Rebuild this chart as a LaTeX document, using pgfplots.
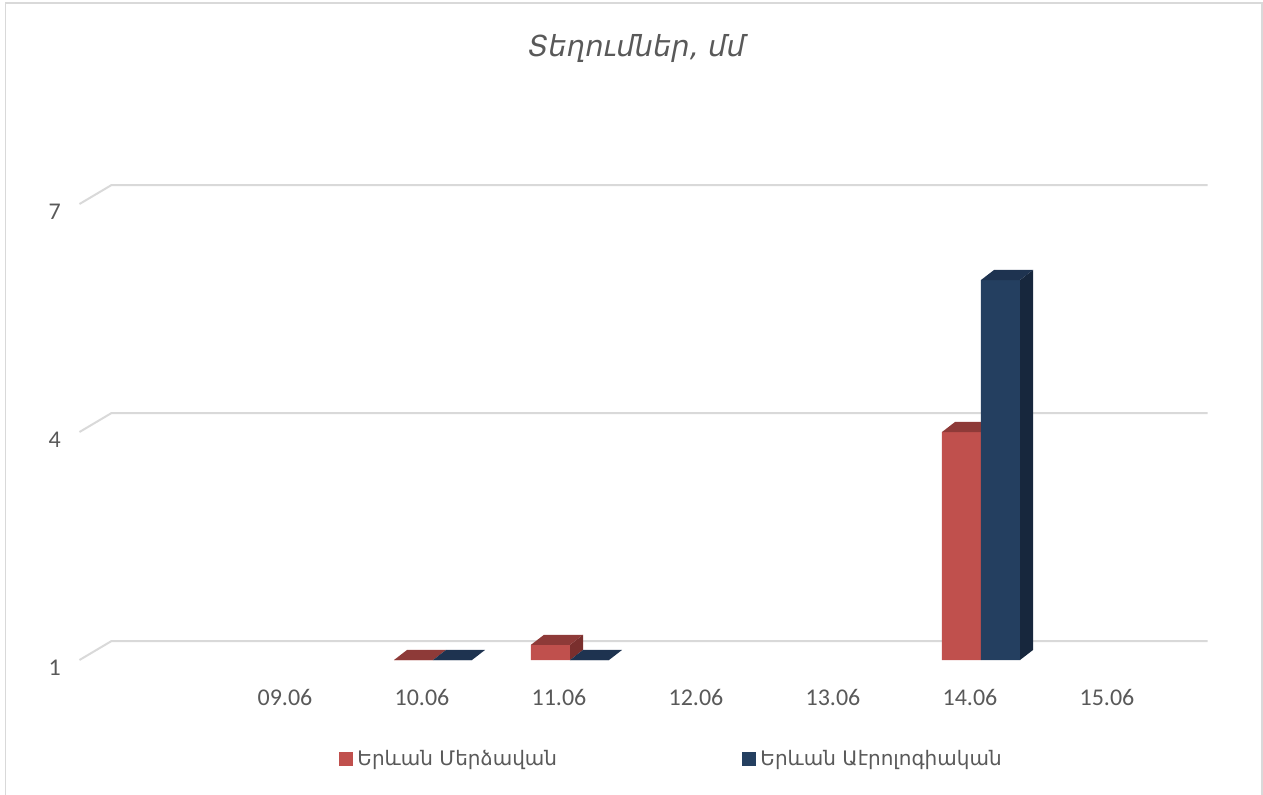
\documentclass[border=0pt]{standalone}
\usepackage{pgfplots}
\pgfplotsset{compat=1.18}
\usepackage{fontspec}
\setmainfont{Carlito}
\newfontfamily\armfont{DejaVu Sans}
\definecolor{txt}{HTML}{595959}
\definecolor{gridc}{HTML}{D9D9D9}
\definecolor{redF}{HTML}{C0504D}
\definecolor{redT}{HTML}{8E3A38}
\definecolor{redS}{HTML}{7A2F2D}
\definecolor{blueF}{HTML}{243F60}
\definecolor{blueT}{HTML}{1E3350}
\definecolor{blueS}{HTML}{17273D}
\begin{document}
\begin{tikzpicture}
\useasboundingbox (0,0) rectangle (631.5pt,397pt);
\draw[gridc, line width=0.75pt] (2.75pt,-3pt) -- (2.75pt,395.5pt) -- (631pt,395.5pt) -- (631pt,-3pt);
\node[text=txt, font=\armfont\itshape\fontsize{14.5}{16}\selectfont] at (318.25pt,372.5pt) {Տեղումներ, մմ};
\begin{axis}[
  at={(38.38pt,67pt)}, anchor=south west,
  scale only axis, width=567.18pt, height=239.4pt,
  xmin=-0.52, xmax=7.76, ymin=1, ymax=7.3,
  axis line style={draw=none}, tick style={draw=none},
  xtick={1,2,3,4,5,6,7},
  xticklabels={09.06,10.06,11.06,12.06,13.06,14.06,15.06},
  ytick={1,4,7},
  ticklabel style={font=\fontsize{12}{14}\selectfont, text=txt},
  /pgf/number format/assume math mode=true,
  xticklabel style={yshift=-11pt},
  yticklabel style={xshift=-4.5pt, yshift=-4pt},
  legend style={at={(0.2259,-0.2068)}, anchor=west, draw=none, fill=none,
    legend columns=2, font=\armfont\fontsize{10}{12}\selectfont, text=txt,
    /tikz/every even column/.append style={column sep=0pt}},
  legend image code/.code={\fill[#1] (0pt,-3.5pt) rectangle (7pt,3.5pt);},
]
% gridlines (front diagonal + back wall)
\addplot[gridc, line width=1pt, forget plot] coordinates {(-0.5,1) (-0.266,1.25) (7.734,1.25)};
\addplot[gridc, line width=1pt, forget plot] coordinates {(-0.5,4) (-0.266,4.25) (7.734,4.25)};
\addplot[gridc, line width=1pt, forget plot] coordinates {(-0.5,7) (-0.266,7.25) (7.734,7.25)};
% red series (front faces)
\addplot[ybar, bar width=0.285, bar shift=-0.062, fill=redF, draw=none,
  legend image code/.code={\fill[redF] (0pt,-3.5pt) rectangle (7pt,3.5pt);}]
  coordinates {(2,1) (3,1.2) (6,4)};
\addlegendentry{\makebox[190.5pt][l]{Երևան Մերձավան}}
% red tops and sides
\addplot[fill=redT, draw=none, forget plot] coordinates {(1.7956,1) (2.0803,1) (2.1753,1.132) (1.8906,1.132)} -- cycle;
\addplot[fill=redS, draw=none, forget plot] coordinates {(3.0803,1) (3.0803,1.2) (3.1753,1.332) (3.1753,1.132)} -- cycle;
\addplot[fill=redT, draw=none, forget plot] coordinates {(2.7956,1.2) (3.0803,1.2) (3.1753,1.332) (2.8906,1.332)} -- cycle;
\addplot[fill=redT, draw=none, forget plot] coordinates {(5.7956,4) (6.0803,4) (6.1753,4.132) (5.8906,4.132)} -- cycle;
% blue series (front faces)
\addplot[ybar, bar width=0.285, bar shift=0.2226, fill=blueF, draw=none,
  legend image code/.code={\fill[blueF] (0pt,-3.5pt) rectangle (7pt,3.5pt);}]
  coordinates {(2,1) (3,1) (6,6)};
\addlegendentry{Երևան Աէրոլոգիական}
% blue tops and sides
\addplot[fill=blueT, draw=none, forget plot] coordinates {(2.0803,1) (2.365,1) (2.46,1.132) (2.1753,1.132)} -- cycle;
\addplot[fill=blueT, draw=none, forget plot] coordinates {(3.0803,1) (3.365,1) (3.46,1.132) (3.1753,1.132)} -- cycle;
\addplot[fill=blueS, draw=none, forget plot] coordinates {(6.365,1) (6.365,6) (6.46,6.132) (6.46,1.132)} -- cycle;
\addplot[fill=blueT, draw=none, forget plot] coordinates {(6.0803,6) (6.365,6) (6.46,6.132) (6.1753,6.132)} -- cycle;
\end{axis}
\end{tikzpicture}
\end{document}
